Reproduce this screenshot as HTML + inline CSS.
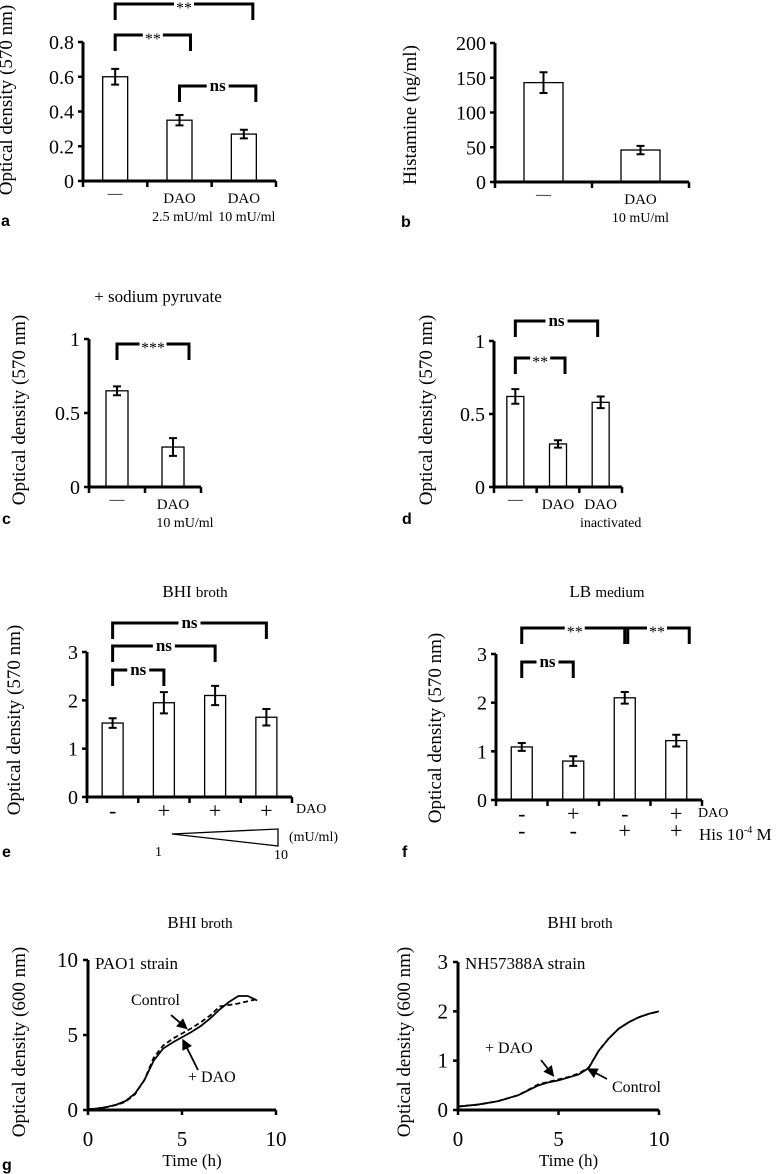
<!DOCTYPE html>
<html><head><meta charset="utf-8">
<style>
html,body{margin:0;padding:0;background:#fff;}
svg{display:block;font-family:"Liberation Serif",serif;}
</style></head>
<body>
<svg id="fig" width="779" height="1174" viewBox="0 0 779 1174" xmlns="http://www.w3.org/2000/svg">
<g font-family="Liberation Sans, sans-serif" font-weight="bold" font-size="16">
<text x="1" y="226">a</text>
<text x="401" y="227">b</text>
<text x="2" y="524">c</text>
<text x="402" y="524">d</text>
<text x="2" y="857">e</text>
<text x="402" y="857">f</text>
<text x="2" y="1170">g</text>
</g>
<g font-size="17" text-anchor="middle">
<text x="158" y="302">+ sodium pyruvate</text>
<text x="195" y="597">BHI <tspan font-size="15">broth</tspan></text>
<text x="607" y="597">LB <tspan font-size="15">medium</tspan></text>
<text x="200" y="928">BHI <tspan font-size="15">broth</tspan></text>
<text x="580" y="928">BHI <tspan font-size="15">broth</tspan></text>
</g>
</svg>
<script>
// ---- data ----
const aCats=["—","DAO|2.5 mU/ml","DAO|10 mU/ml"];
const aValues=[0.6,0.35,0.27];
const aErrors=[0.045,0.03,0.025];
const aTicks=[0,0.2,0.4,0.6,0.8];
const aTickLabels=["0","0.2","0.4","0.6","0.8"];
const bCats=["—","DAO|10 mU/ml"];
const bValues=[143,46];
const bErrors=[15,6];
const bTicks=[0,50,100,150,200];
const bTickLabels=["0","50","100","150","200"];
const cCats=["—","DAO|10 mU/ml"];
const cValues=[0.65,0.27];
const cErrors=[0.03,0.06];
const cTicks=[0,0.5,1];
const cTickLabels=["0","0.5","1"];
const dCats=["—","DAO","DAO|inactivated"];
const dValues=[0.62,0.295,0.58];
const dErrors=[0.05,0.025,0.04];
const dTicks=[0,0.5,1];
const dTickLabels=["0","0.5","1"];
const eCats=["-","+","+","+"];
const eValues=[1.53,1.95,2.1,1.65];
const eErrors=[0.1,0.22,0.2,0.17];
const eTicks=[0,1,2,3];
const eTickLabels=["0","1","2","3"];
const fCatsDAO=["-","+","-","+"];
const fCatsHis=["-","-","+","+"];
const fValues=[1.09,0.8,2.1,1.22];
const fErrors=[0.08,0.1,0.12,0.12];
const fTicks=[0,1,2,3];
const fTickLabels=["0","1","2","3"];
const g1Time=[0,0.5,1,1.5,2,2.5,3,3.5,4,4.5,5,5.5,6,6.5,7,7.5,8,8.5,9];
const g1DAO=[0.05,0.1,0.2,0.35,0.6,1.1,2.0,3.3,4.1,4.5,4.85,5.2,5.6,6.1,6.7,7.2,7.6,7.6,7.3];
const g1Control=[0.05,0.1,0.2,0.33,0.55,1.05,2.0,3.5,4.3,4.75,5.1,5.45,5.85,6.3,6.9,7.0,7.1,7.25,7.4];
const g2Time=[0,1,2,3,3.5,4,4.5,5,5.5,6,6.5,7,7.5,8,8.5,9,9.5,10];
const g2DAO=[0.07,0.11,0.18,0.3,0.4,0.5,0.56,0.6,0.66,0.72,0.85,1.2,1.45,1.65,1.78,1.88,1.95,2.0];
const g2Control=[0.07,0.11,0.18,0.3,0.41,0.52,0.57,0.62,0.67,0.74,0.86,1.2,1.45,1.65,1.78,1.88,1.95,2.0];
const gxTicks=[0,5,10];
const g1yTicks=[0,5,10];
const g2yTicks=[0,1,2,3];

const NS="http://www.w3.org/2000/svg";
const svg=document.getElementById('fig');
function el(tag,attrs,parent){const e=document.createElementNS(NS,tag);for(const k in attrs)e.setAttribute(k,attrs[k]);(parent||svg).appendChild(e);return e;}

function barPanel(p,cats,vals,errs,ticks,tickLabels,cfg){
  const g=el('g',{});
  
  
  const n=vals.length, band=(cfg.x1-cfg.x0)/n;
  const sy=v=>cfg.y0-(v-ticks[0])/(ticks[ticks.length-1]-ticks[0])*(cfg.y0-cfg.yTop);
  const cx=i=>cfg.x0+(i+0.5)*band;
  vals.forEach((v,i)=>{
    const r=el('rect',{x:cx(i)-cfg.bw/2,y:sy(v),width:cfg.bw,height:cfg.y0-sy(v),fill:'#fff',stroke:'#000','stroke-width':1.3},g);
    
    
    const e1=sy(v+errs[i]),e2=sy(v-errs[i]);
    const eb=el('path',{d:`M${cx(i)} ${e1}V${e2}M${cx(i)-4} ${e1}H${cx(i)+4}M${cx(i)-4} ${e2}H${cx(i)+4}`,stroke:'#000','stroke-width':2,fill:'none'},g);
    
    
  });
  const ax=el('path',{d:`M${cfg.x0} ${cfg.yTop}V${cfg.y0}H${cfg.x1}`,stroke:'#000','stroke-width':3,fill:'none'},g);
  
  
  for(let i=0;i<=n;i++){const t=el('line',{x1:cfg.x0+i*band,x2:cfg.x0+i*band,y1:cfg.y0,y2:cfg.y0+6,stroke:'#000','stroke-width':2.5},g);
    
    }
  ticks.forEach((t,i)=>{
    const y=sy(t);
    el('line',{x1:cfg.x0-5,x2:cfg.x0,y1:y,y2:y,stroke:'#000','stroke-width':2.5},g);
    const tx=el('text',{x:cfg.x0-9,y:y+7,'text-anchor':'end','font-size':cfg.tfs||20},g);
    tx.textContent=tickLabels[i];
    
    
  });
  const yl=el('text',{x:0,y:0,'text-anchor':'middle','font-size':cfg.yfs||19,transform:`translate(${cfg.ylx},${cfg.yly}) rotate(-90)`},g);
  yl.textContent=cfg.ylabel;
  
  
  if(cats) cats.forEach((c,i)=>{
    const parts=c.split('|');
    parts.forEach((s,j)=>{
      const big=(s==='+'||s==='-');
      const t=el('text',{x:cx(i)+(j?cfg.sub||0:0),y:cfg.y0+(s==='—'?17:(big?21:22))+j*18,'text-anchor':'middle','font-size':big?22:(j?14:15)},g);
      t.textContent=s;
      
      
    });
  });
  (cfg.brackets||[]).forEach(b=>{
    const xa=cx(b[0]),xb=cx(b[1])+(b[4]||0),y=b[2];
    const bw=b[3].length*(b[3]==='ns'?8:7)+6, mid=(xa+xb)/2;
    const pth=el('path',{d:`M${xa} ${y+16}V${y}H${mid-bw/2}M${mid+bw/2} ${y}H${xb}V${y+16}`,stroke:'#000','stroke-width':3,fill:'none'},g);
    
    
    const t=el('text',{x:mid,y:b[3]==='ns'?y+5:y+9,'text-anchor':'middle','font-size':b[3]==='ns'?17:16,'font-weight':b[3]==='ns'?'bold':'normal'},g);
    t.textContent=b[3];
    
    
  });
  return {g,cx,sy};
}

barPanel('a',aCats,aValues,aErrors,aTicks,aTickLabels,{x0:83,x1:276,y0:181,yTop:42,bw:25,ylx:12,yly:100,ylabel:'Optical density (570 nm)',sub:3,
  brackets:[[0,2,4,'**',9],[0,1,35,'**',11],[1,2,86,'ns',12]]});
barPanel('b',bCats,bValues,bErrors,bTicks,bTickLabels,{x0:495,x1:689,y0:182,yTop:43,bw:39,ylx:416,yly:115,ylabel:'Histamine (ng/ml)'});
barPanel('c',cCats,cValues,cErrors,cTicks,cTickLabels,{x0:89,x1:201,y0:487,yTop:339,bw:22,ylx:25,yly:410,ylabel:'Optical density (570 nm)',sub:12,
  brackets:[[0,1,344,'***',16]]});
barPanel('d',dCats,dValues,dErrors,dTicks,dTickLabels,{x0:494,x1:622,y0:487,yTop:341,bw:17,ylx:432,yly:410,ylabel:'Optical density (570 nm)',sub:10,
  brackets:[[0,2,321,'ns',-3],[0,1,358,'**',7]]});
const E=barPanel('e',eCats,eValues,eErrors,eTicks,eTickLabels,{x0:87,x1:292,y0:797,yTop:652,bw:21,ylx:20,yly:720,ylabel:'Optical density (570 nm)',
  brackets:[[0,3,623,'ns'],[0,2,646,'ns'],[0,1,670,'ns']]});
const F=barPanel('f',fCatsDAO,fValues,fErrors,fTicks,fTickLabels,{x0:496,x1:702,y0:800,yTop:654,bw:21,ylx:441,yly:728,ylabel:'Optical density (570 nm)',
  brackets:[[0,2,628,'**',3],[2,3,628,'**',13],[0,1,662,'ns']]});
fCatsHis.forEach((c,i)=>{const t=el('text',{x:F.cx(i),y:838,'text-anchor':'middle','font-size':22});t.textContent=c;
  
  });
[[296,813,'DAO',14],[698,817,'DAO',14]].forEach(a=>{const t=el('text',{x:a[0],y:a[1],'font-size':a[3]});t.textContent=a[2];
  
  });
{const t=el('text',{x:699,y:840,'font-size':17});t.innerHTML='His 10<tspan font-size="10" dy="-7">-4</tspan><tspan dy="7"> M</tspan>';
 
 }
{const w=el('path',{d:'M172 834L278 829V846Z',fill:'#fff',stroke:'#000','stroke-width':1.3});
 
 
 [[289,841,'(mU/ml)'],[155,856,'1'],[274,859,'10']].forEach(a=>{const t=el('text',{x:a[0],y:a[1],'font-size':14});t.textContent=a[2];
  
  });}

function linePanel(p,cfg,time,s1,s2,yTicks){
  const g=el('g',{});
  
  
  const sx=t=>cfg.x0+t/10*(cfg.x1-cfg.x0);
  const sy=v=>cfg.y0-v/cfg.yMax*(cfg.y0-cfg.yTop);
  const ax=el('path',{d:`M${cfg.x0} ${cfg.yTop}V${cfg.y0}H${cfg.x1}`,stroke:'#000','stroke-width':3,fill:'none'},g);
  
  
  gxTicks.forEach(t=>{el('line',{x1:sx(t),x2:sx(t),y1:cfg.y0,y2:cfg.y0+5,stroke:'#000','stroke-width':2.5},g);
    const tx=el('text',{x:sx(t),y:1146,'text-anchor':'middle','font-size':21},g);tx.textContent=t;
    
    });
  yTicks.forEach(t=>{el('line',{x1:cfg.x0-5,x2:cfg.x0,y1:sy(t),y2:sy(t),stroke:'#000','stroke-width':2.5},g);
    const tx=el('text',{x:cfg.x0-10,y:sy(t)+7,'text-anchor':'end','font-size':21},g);tx.textContent=t;
    
    });
  const xl=el('text',{x:(cfg.x0+cfg.x1)/2+10,y:1166,'text-anchor':'middle','font-size':17},g);xl.textContent='Time (h)';
  
  
  const yl=el('text',{x:0,y:0,'text-anchor':'middle','font-size':19,transform:`translate(${cfg.ylx},1042) rotate(-90)`},g);yl.textContent='Optical density (600 nm)';
  
  
  const l1=el('polyline',{points:time.map((t,i)=>sx(t)+','+sy(s1[i])).join(' '),fill:'none',stroke:'#000','stroke-width':1.8},g);
  
  
  const l2=el('polyline',{points:time.map((t,i)=>sx(t)+','+sy(s2[i])).join(' '),fill:'none',stroke:'#000','stroke-width':1.8,'stroke-dasharray':'5,3'},g);
  
  
  const st=el('text',{x:cfg.x0+7,y:969,'font-size':17},g);st.textContent=cfg.strain;
  
  
  cfg.notes.forEach(n=>{
    const t=el('text',{x:n[0],y:n[1],'font-size':16},g);t.textContent=n[2];
    
    
    const a=el('line',{x1:n[3],y1:n[4],x2:n[5],y2:n[6],stroke:'#000','stroke-width':1.8,'marker-end':'url(#arr)'},g);
    
    
  });
}
const defs=el('defs',{});
const mk=el('marker',{id:'arr',markerWidth:6,markerHeight:6,refX:4,refY:3,orient:'auto',markerUnits:'strokeWidth'},defs);
el('path',{d:'M0 0L6 3L0 6Z',fill:'#000'},mk);
linePanel('g-left',{x0:88,x1:276,y0:1110,yTop:960,yMax:10,ylx:25,strain:'PAO1 strain',
  notes:[[131,1005,'Control',171,1015,185,1027],[188,1082,'+ DAO',198,1070,184,1042]]},g1Time,g1DAO,g1Control,g1yTicks);
linePanel('g-right',{x0:458,x1:659,y0:1110,yTop:962,yMax:3,ylx:410,strain:'NH57388A strain',
  notes:[[485,1053,'+ DAO',541,1060,552,1074],[612,1092,'Control',607,1079,590,1070]]},g2Time,g2DAO,g2Control,g2yTicks);
</script>
</body></html>
